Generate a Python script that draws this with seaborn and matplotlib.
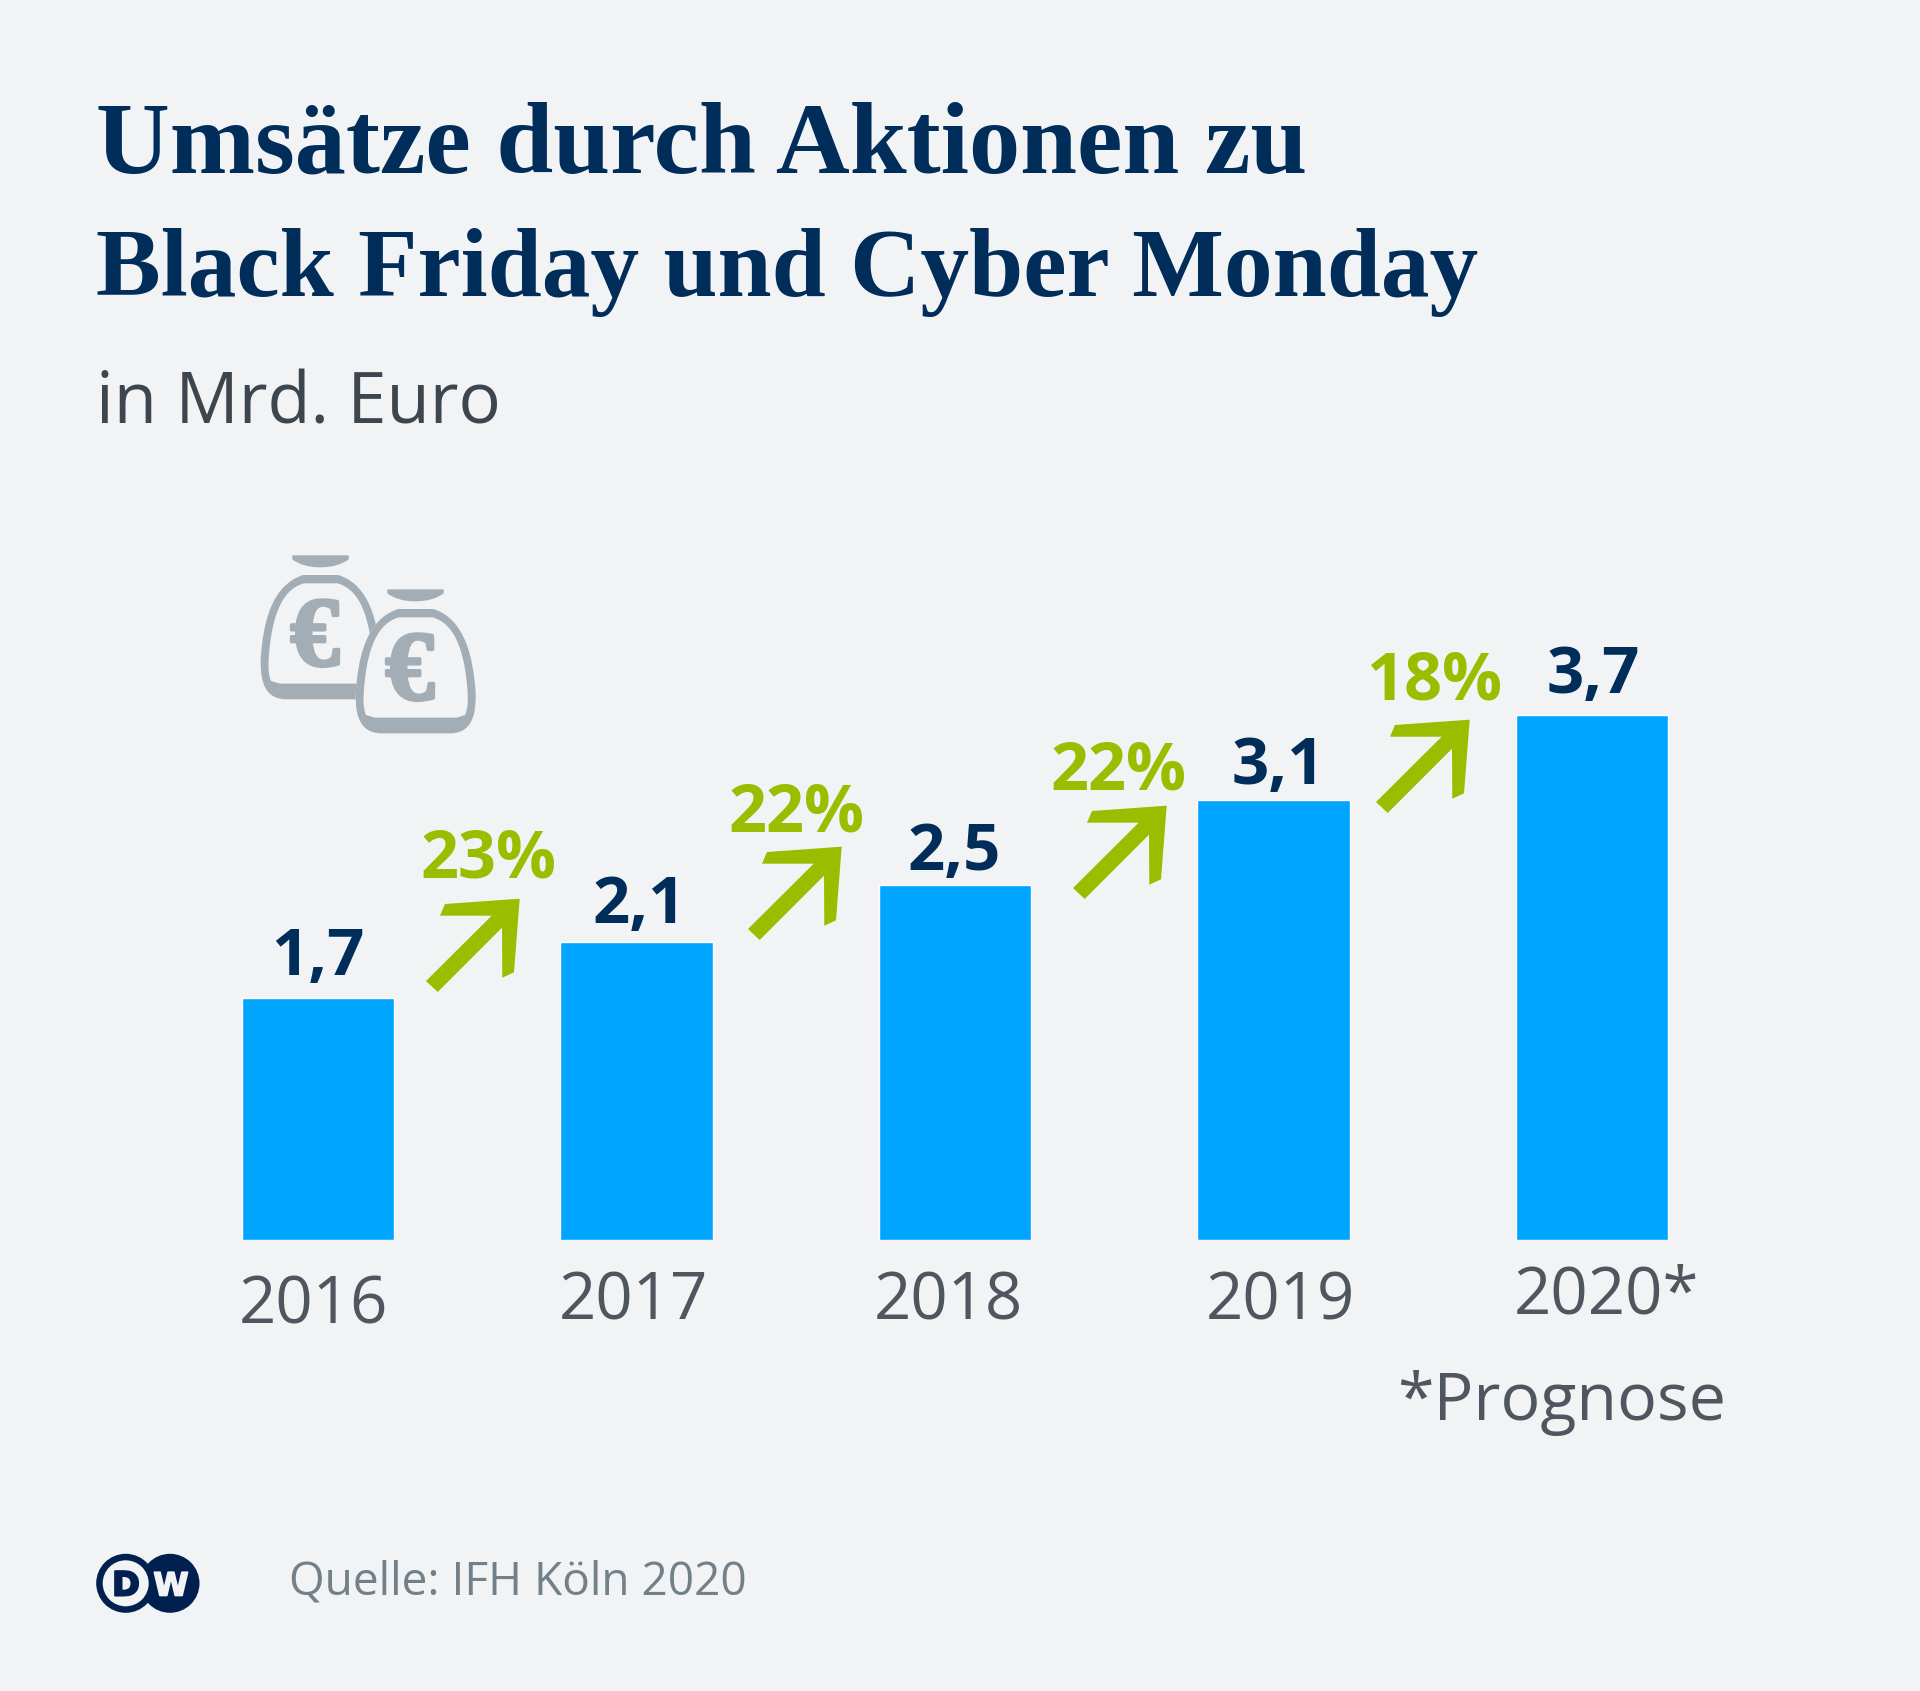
import numpy as np
import pandas as pd
import matplotlib
matplotlib.use('Agg')
import matplotlib.pyplot as plt
import matplotlib.patheffects as pe
import seaborn as sns
from matplotlib.path import Path
from matplotlib.patches import PathPatch, Polygon, Circle

# --- data ---
years = ['2016', '2017', '2018', '2019', '2020']
year_labels = ['2016', '2017', '2018', '2019', '2020*']
umsatz = [1.7, 2.1, 2.5, 3.1, 3.7]
umsatz_labels = ['1,7', '2,1', '2,5', '3,1', '3,7']
growth_labels = ['23%', '22%', '22%', '18%']

title_lines = ['Umsätze durch Aktionen zu', 'Black Friday und Cyber Monday']
subtitle = 'in Mrd. Euro'
note = '*Prognose'
source = 'Quelle: IFH Köln 2020'

# --- colours ---
BG = '#f1f3f5'
BAR = '#00a5ff'
NAVY = '#002d5a'
GREEN = '#9abd00'
TICK = '#4f5660'
SUB = '#3d464e'
SRC = '#72808a'
ICON = '#a2adb6'
LOGO = '#012050'

W, H = 1920, 1691

sns.set_theme(style='white')
plt.rcParams['font.family'] = ['Open Sans', 'DejaVu Sans']

fig = plt.figure(figsize=(W / 100, H / 100), dpi=100, facecolor=BG)

# overlay in image pixels for everything that is not a bar
over = fig.add_axes([0, 0, 1, 1])
over.set_xlim(0, W)
over.set_ylim(H, 0)
over.axis('off')

# bar axes: baseline at y=1239.5, 141.8 px per Mrd. Euro
left, right, base, top = 159, 1751, 1239.5, 673
ax = fig.add_axes([left / W, 1 - base / H, (right - left) / W, (base - top) / H])
ax.patch.set_alpha(0)

df = pd.DataFrame({'jahr': years, 'umsatz': umsatz})
sns.barplot(data=df, x='jahr', y='umsatz', color=BAR, saturation=1, width=0.479, ax=ax)
ax.set_xlim(-0.5, 4.5)
ax.set_ylim(0, (base - top) / 141.8)
ax.axis('off')

# value labels, small hand offsets as in the original
val_dx = [0, 3, -1, 5, 1]
val_dy = [23, 19, 15, 16, 22]
for i, (v, lab) in enumerate(zip(umsatz, umsatz_labels)):
    ax.annotate(lab, xy=(i, v), xytext=(val_dx[i], val_dy[i]), textcoords='offset pixels',
                ha='center', va='baseline', fontsize=47, fontweight='bold', color=NAVY)

# year labels are not quite aligned with the bars in the original
year_x = [313.5, 633, 948, 1280, 1606.5]
year_y = [1324, 1319, 1319, 1319, 1313]
for x, y, lab in zip(year_x, year_y, year_labels):
    over.text(x, y, lab, ha='center', va='baseline', fontsize=47, color=TICK)

over.text(1397, 1420, note, ha='left', va='baseline', fontsize=47.8, color=TICK)

# growth arrows with their labels
arrow_shape = np.array([(519.7, 898.7), (445, 904), (440, 915.7), (491.7, 915.7), (426, 981),
                        (437.7, 992), (502, 927.7), (502.3, 977.7), (514, 972.3)])
arrow_shift = [(0, 0), (322, -52), (647, -93), (950, -179)]
growth_x = [488.6, 796.5, 1118.5, 1434.5]
growth_y = [877, 832, 790, 700]
for lab, shift, x, y in zip(growth_labels, arrow_shift, growth_x, growth_y):
    over.add_patch(Polygon(arrow_shape + np.array(shift), closed=True, fc=GREEN, ec='none'))
    over.text(x, y, lab, ha='center', va='baseline', fontsize=48, fontweight='bold', color=GREEN)

# titles, second line set a little smaller to keep the line length of the original
for y, line, size in zip([172, 296], title_lines, [73.6, 70.0]):
    over.text(96, y, line, ha='left', va='baseline', fontsize=size, fontweight='bold',
              family='Liberation Serif', color=NAVY)
over.text(96, 424, subtitle, ha='left', va='baseline', fontsize=50.8, color=SUB)


# money bag icon, coordinates taken from a 3x crop
def bag_path(ox, oy):
    M, L, C, Z = Path.MOVETO, Path.LINETO, Path.CURVE4, Path.CLOSEPOLY
    outer = [((220, 135), M), ((325, 135), L),
             ((420, 165), C), ((445, 280), C), ((452, 388), C),
             ((452, 430), C), ((452, 508), C), ((375, 508), C),
             ((170, 508), L),
             ((92, 508), C), ((92, 430), C), ((92, 388), C),
             ((99, 280), C), ((124, 165), C), ((220, 135), C),
             ((220, 135), Z)]
    # inner contour runs the other way round so it cuts a hole
    inner = [((222, 160), M),
             ((144, 180), C), ((122, 290), C), ((116, 388), C),
             ((114, 420), C), ((117, 440), C), ((123, 453), C),
             ((150, 461), L), ((395, 461), L), ((420, 453), L),
             ((426, 440), C), ((430, 420), C), ((428, 388), C),
             ((422, 290), C), ((400, 180), C), ((322, 160), C),
             ((222, 160), L), ((222, 160), Z)]
    pts = np.array([p for p, _ in outer + inner], dtype=float)
    codes = [c for _, c in outer + inner]
    pts = np.column_stack([230 + (pts[:, 0] + ox) / 3, 530 + (pts[:, 1] + oy) / 3])
    return Path(pts, codes)


def tie_path(ox, oy):
    M, L, C, Z = Path.MOVETO, Path.LINETO, Path.CURVE3, Path.CLOSEPOLY
    pts = [(187, 76), (356, 76), (356, 88), (325, 112), (270, 112), (218, 112),
           (187, 88), (187, 76)]
    codes = [M, L, L, C, C, C, C, Z]
    pts = np.array(pts, dtype=float)
    pts = np.column_stack([230 + (pts[:, 0] + ox) / 3, 530 + (pts[:, 1] + oy) / 3])
    return Path(pts, codes)


heavy_euro = [pe.withStroke(linewidth=2.5, foreground=ICON)]
for ox, oy in [(0, 0), (285, 102)]:
    bag = bag_path(ox, oy)
    # only the second bag hides what lies behind it
    if ox:
        outer_only = Path(bag.vertices[:16], bag.codes[:16])
        over.add_patch(PathPatch(outer_only, fc=BG, ec='none'))
    over.add_patch(PathPatch(bag, fc=ICON, ec='none'))
    over.add_patch(PathPatch(tie_path(ox, oy), fc=ICON, ec='none'))
    over.text(230 + (255 + ox) / 3, 530 + (406 + oy) / 3, '€', ha='center', va='baseline',
              fontsize=71, fontweight='bold', family='Liberation Serif', color=ICON,
              path_effects=heavy_euro)

# DW logo
over.add_patch(Circle((170, 1583.3), 29.5, fc=LOGO, ec='none'))
over.add_patch(Circle((125.7, 1583.3), 29.5, fc=LOGO, ec='none'))
over.add_patch(Circle((125.7, 1583.3), 23, fc=BG, ec='none'))
heavy_d = [pe.withStroke(linewidth=1.5, foreground=LOGO)]
heavy_w = [pe.withStroke(linewidth=1.2, foreground=BG)]
over.text(126, 1595.5, 'D', ha='center', va='baseline', fontsize=24, fontweight='bold',
          family='DejaVu Sans', color=LOGO, path_effects=heavy_d)
over.text(171, 1595.5, 'W', ha='center', va='baseline', fontsize=23, fontweight='bold',
          family='DejaVu Sans', color=BG, path_effects=heavy_w)

over.text(289, 1594, source, ha='left', va='baseline', fontsize=33.1, color=SRC)

fig.savefig('out.png', dpi=100, facecolor=BG)
